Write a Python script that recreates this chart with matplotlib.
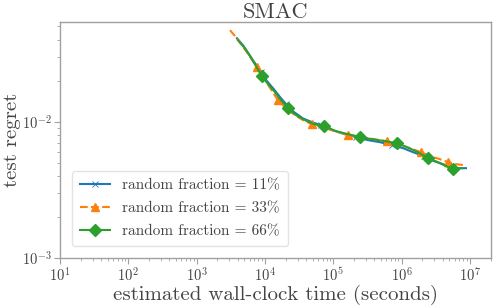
import matplotlib
matplotlib.use('Agg')
import matplotlib.pyplot as plt

plt.rcParams['font.family'] = ['cmr10', 'DejaVu Serif']
plt.rcParams['mathtext.fontset'] = 'cm'
plt.rcParams['axes.formatter.use_mathtext'] = True
plt.rcParams['axes.unicode_minus'] = False

# estimated wall-clock time (s) and test regret
time_11 = [3890, 4770, 5840, 7140, 8740, 10700, 13550, 16600, 20300, 26600,
           36000, 48700, 66000, 98900, 148000, 215000, 322000, 482000, 723000,
           1.05e6, 1.47e6, 2.12e6, 2.97e6, 4.03e6, 5.27e6, 6.90e6, 8.75e6]
regret_11 = [0.0410, 0.0364, 0.0313, 0.0269, 0.0231, 0.0199, 0.0173, 0.0152,
             0.0135, 0.0118, 0.0106, 0.00995, 0.00946, 0.00869, 0.00813,
             0.00773, 0.00735, 0.00710, 0.00675, 0.00642, 0.00600, 0.00561,
             0.00516, 0.00490, 0.00466, 0.00458, 0.00458]

time_33 = [3076, 3770, 4610, 5840, 7640, 9680, 12240, 15500, 20300, 27500,
           36000, 48700, 68200, 106000, 164000, 254000, 394000, 611000, 885000,
           1.32e6, 1.92e6, 2.60e6, 3.64e6, 4.77e6, 6.24e6, 8.18e6]
regret_33 = [0.0469, 0.0417, 0.0364, 0.0308, 0.0251, 0.0209, 0.0173, 0.0144,
             0.0126, 0.0112, 0.0103, 0.00962, 0.00915, 0.00855, 0.00799,
             0.00773, 0.00747, 0.00722, 0.00687, 0.00642, 0.00600, 0.00561,
             0.00533, 0.00507, 0.00490, 0.00482]

time_66 = [4030, 4930, 6040, 7390, 9040, 11070, 14000, 17150, 21700, 28400,
           38500, 52100, 73100, 109000, 164000, 246000, 368000, 571000, 855000,
           1.20e6, 1.73e6, 2.43e6, 3.40e6, 4.46e6, 5.64e6, 7.64e6]
regret_66 = [0.0396, 0.0352, 0.0303, 0.0256, 0.0216, 0.0189, 0.0165, 0.0144,
             0.0126, 0.0112, 0.0103, 0.00962, 0.00930, 0.00855, 0.00813,
             0.00773, 0.00747, 0.00722, 0.00698, 0.00653, 0.00600, 0.00542,
             0.00507, 0.00474, 0.00451, 0.00458]

marks_11 = [4, 8, 12, 15, 18, 21, 24]
marks_33 = [4, 7, 11, 14, 17, 20, 23]
marks_66 = [4, 8, 12, 15, 18, 21, 24]

labels = ['random fraction = 11%', 'random fraction = 33%', 'random fraction = 66%']

txt = '#444444'
grey = '#a0a0a0'

fig = plt.figure(figsize=(5, 3.08), dpi=100)
ax = fig.add_axes([0.12, 0.161, 0.861, 0.768])

ax.plot(time_11, regret_11, '-', color='#1f77b4', lw=1.5, marker='x', ms=5,
        mew=0.6, markevery=marks_11, label=labels[0])
ax.plot(time_33, regret_33, '--', color='#ff7f0e', lw=1.5, marker='^', ms=6,
        markevery=marks_33, label=labels[1])
ax.plot(time_66, regret_66, '-', color='#2ca02c', lw=1.5, marker='D', ms=6,
        markevery=marks_66, label=labels[2])

ax.set_xscale('log')
ax.set_yscale('log')
ax.set_xlim(10, 2e7)
ax.set_ylim(1e-3, 0.054)

ax.set_title('SMAC', fontsize=16, color=txt, pad=3)
ax.set_xlabel('estimated wall-clock time (seconds)', fontsize=15, color=txt)
ax.set_ylabel('test regret', fontsize=15, color=txt)
ax.xaxis.set_label_coords(0.5, -0.112)
ax.yaxis.set_label_coords(-0.09, 0.5)

for s in ax.spines.values():
    s.set_color(grey)
    s.set_linewidth(1.0)
ax.tick_params(which='both', colors=grey, labelcolor=txt, labelsize=10.5, pad=2)
ax.tick_params(which='major', length=4)
ax.tick_params(which='minor', length=2.5)

leg = ax.legend(loc='lower left', fontsize=11, frameon=True, fancybox=True,
                handlelength=2.0, borderpad=0.5, labelspacing=0.6,
                bbox_to_anchor=(0.01, 0.02))
leg.get_frame().set_edgecolor('#dddddd')
for t in leg.get_texts():
    t.set_color(txt)

fig.savefig('out.png', dpi=100)
